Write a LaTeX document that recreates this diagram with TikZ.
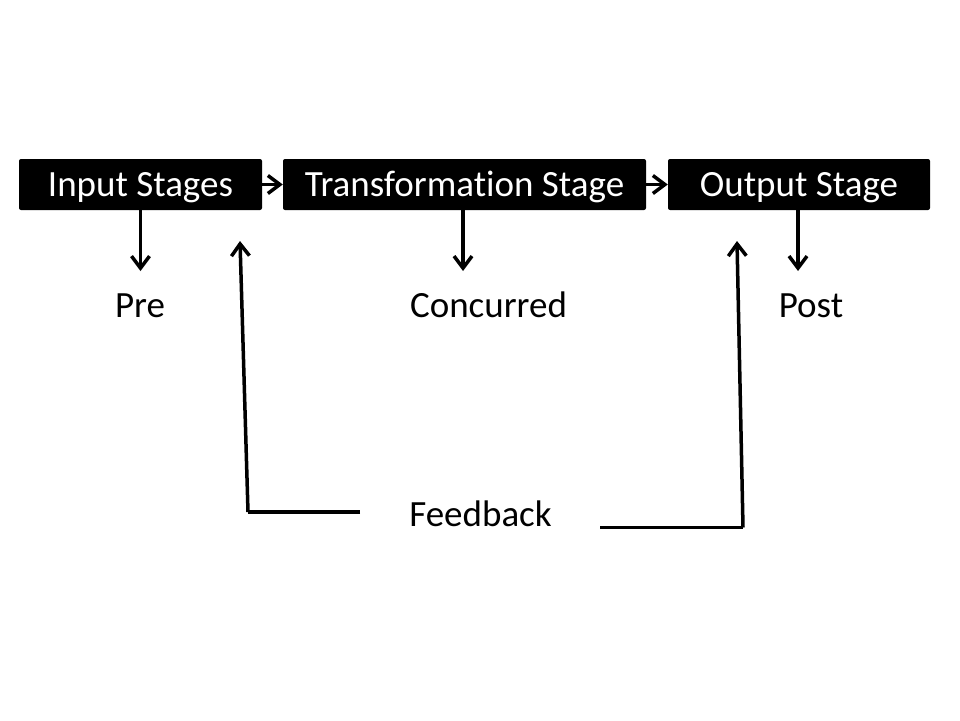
\documentclass[tikz,border=0pt]{standalone}
\usepackage{fontspec}
\setmainfont{Carlito}[Ligatures=NoCommon]
\usetikzlibrary{arrows.meta}
\begin{document}
\begin{tikzpicture}[x=1pt,y=-1pt,
  stagebox/.style={fill=black,text=white,rounded corners=2pt,inner sep=0pt,
    minimum height=51pt,font=\fontsize{37}{44}\selectfont,text height=24pt,text depth=0pt},
  lbl/.style={anchor=base,font=\fontsize{37}{44}\selectfont,inner sep=0pt},
  conn/.style={line width=3.5pt,-{Straight Barb[length=12pt,width=18pt,line width=3.5pt]}},
  plain/.style={line width=3.5pt,line join=miter}
]
\useasboundingbox (0,0) rectangle (960,720);
\node[stagebox,minimum width=243pt] (inp) at (140.5,184.5) {Input Stages};
\node[stagebox,minimum width=363pt] (trans) at (464.5,184.5) {Transformation Stage};
\node[stagebox,minimum width=262pt] (outp) at (799,184.5) {Output Stage};

\node[lbl] (pre) at (140,317) {Pre};
\node[lbl] (conc) at (488.5,317) {Concurred};
\node[lbl] (post) at (811,317) {Post};
\node[lbl] (fb) at (480.5,526) {Feedback};

\coordinate (preTip) at (140.5,271);
\coordinate (concTip) at (463,271);
\coordinate (postTip) at (798,271);

\draw[conn] (inp.east) -- (trans.west);
\draw[conn] (trans.east) -- (outp.west);
\draw[conn] (inp.south -| preTip) -- (preTip);
\draw[conn] (trans.south -| concTip) -- (concTip);
\draw[conn] (outp.south -| postTip) -- (postTip);

\coordinate (fbL) at (360,512);
\coordinate (cornerL) at (248,512);
\coordinate (tipL) at (240,241);
\coordinate (fbR) at (600,527.5);
\coordinate (cornerR) at (743,527.5);
\coordinate (tipR) at (737,241);

\draw[plain] (fbL) -- (cornerL);
\draw[conn] (cornerL) -- (tipL);
\draw[plain] (fbR) -- (cornerR);
\draw[conn] (cornerR) -- (tipR);
\end{tikzpicture}
\end{document}
